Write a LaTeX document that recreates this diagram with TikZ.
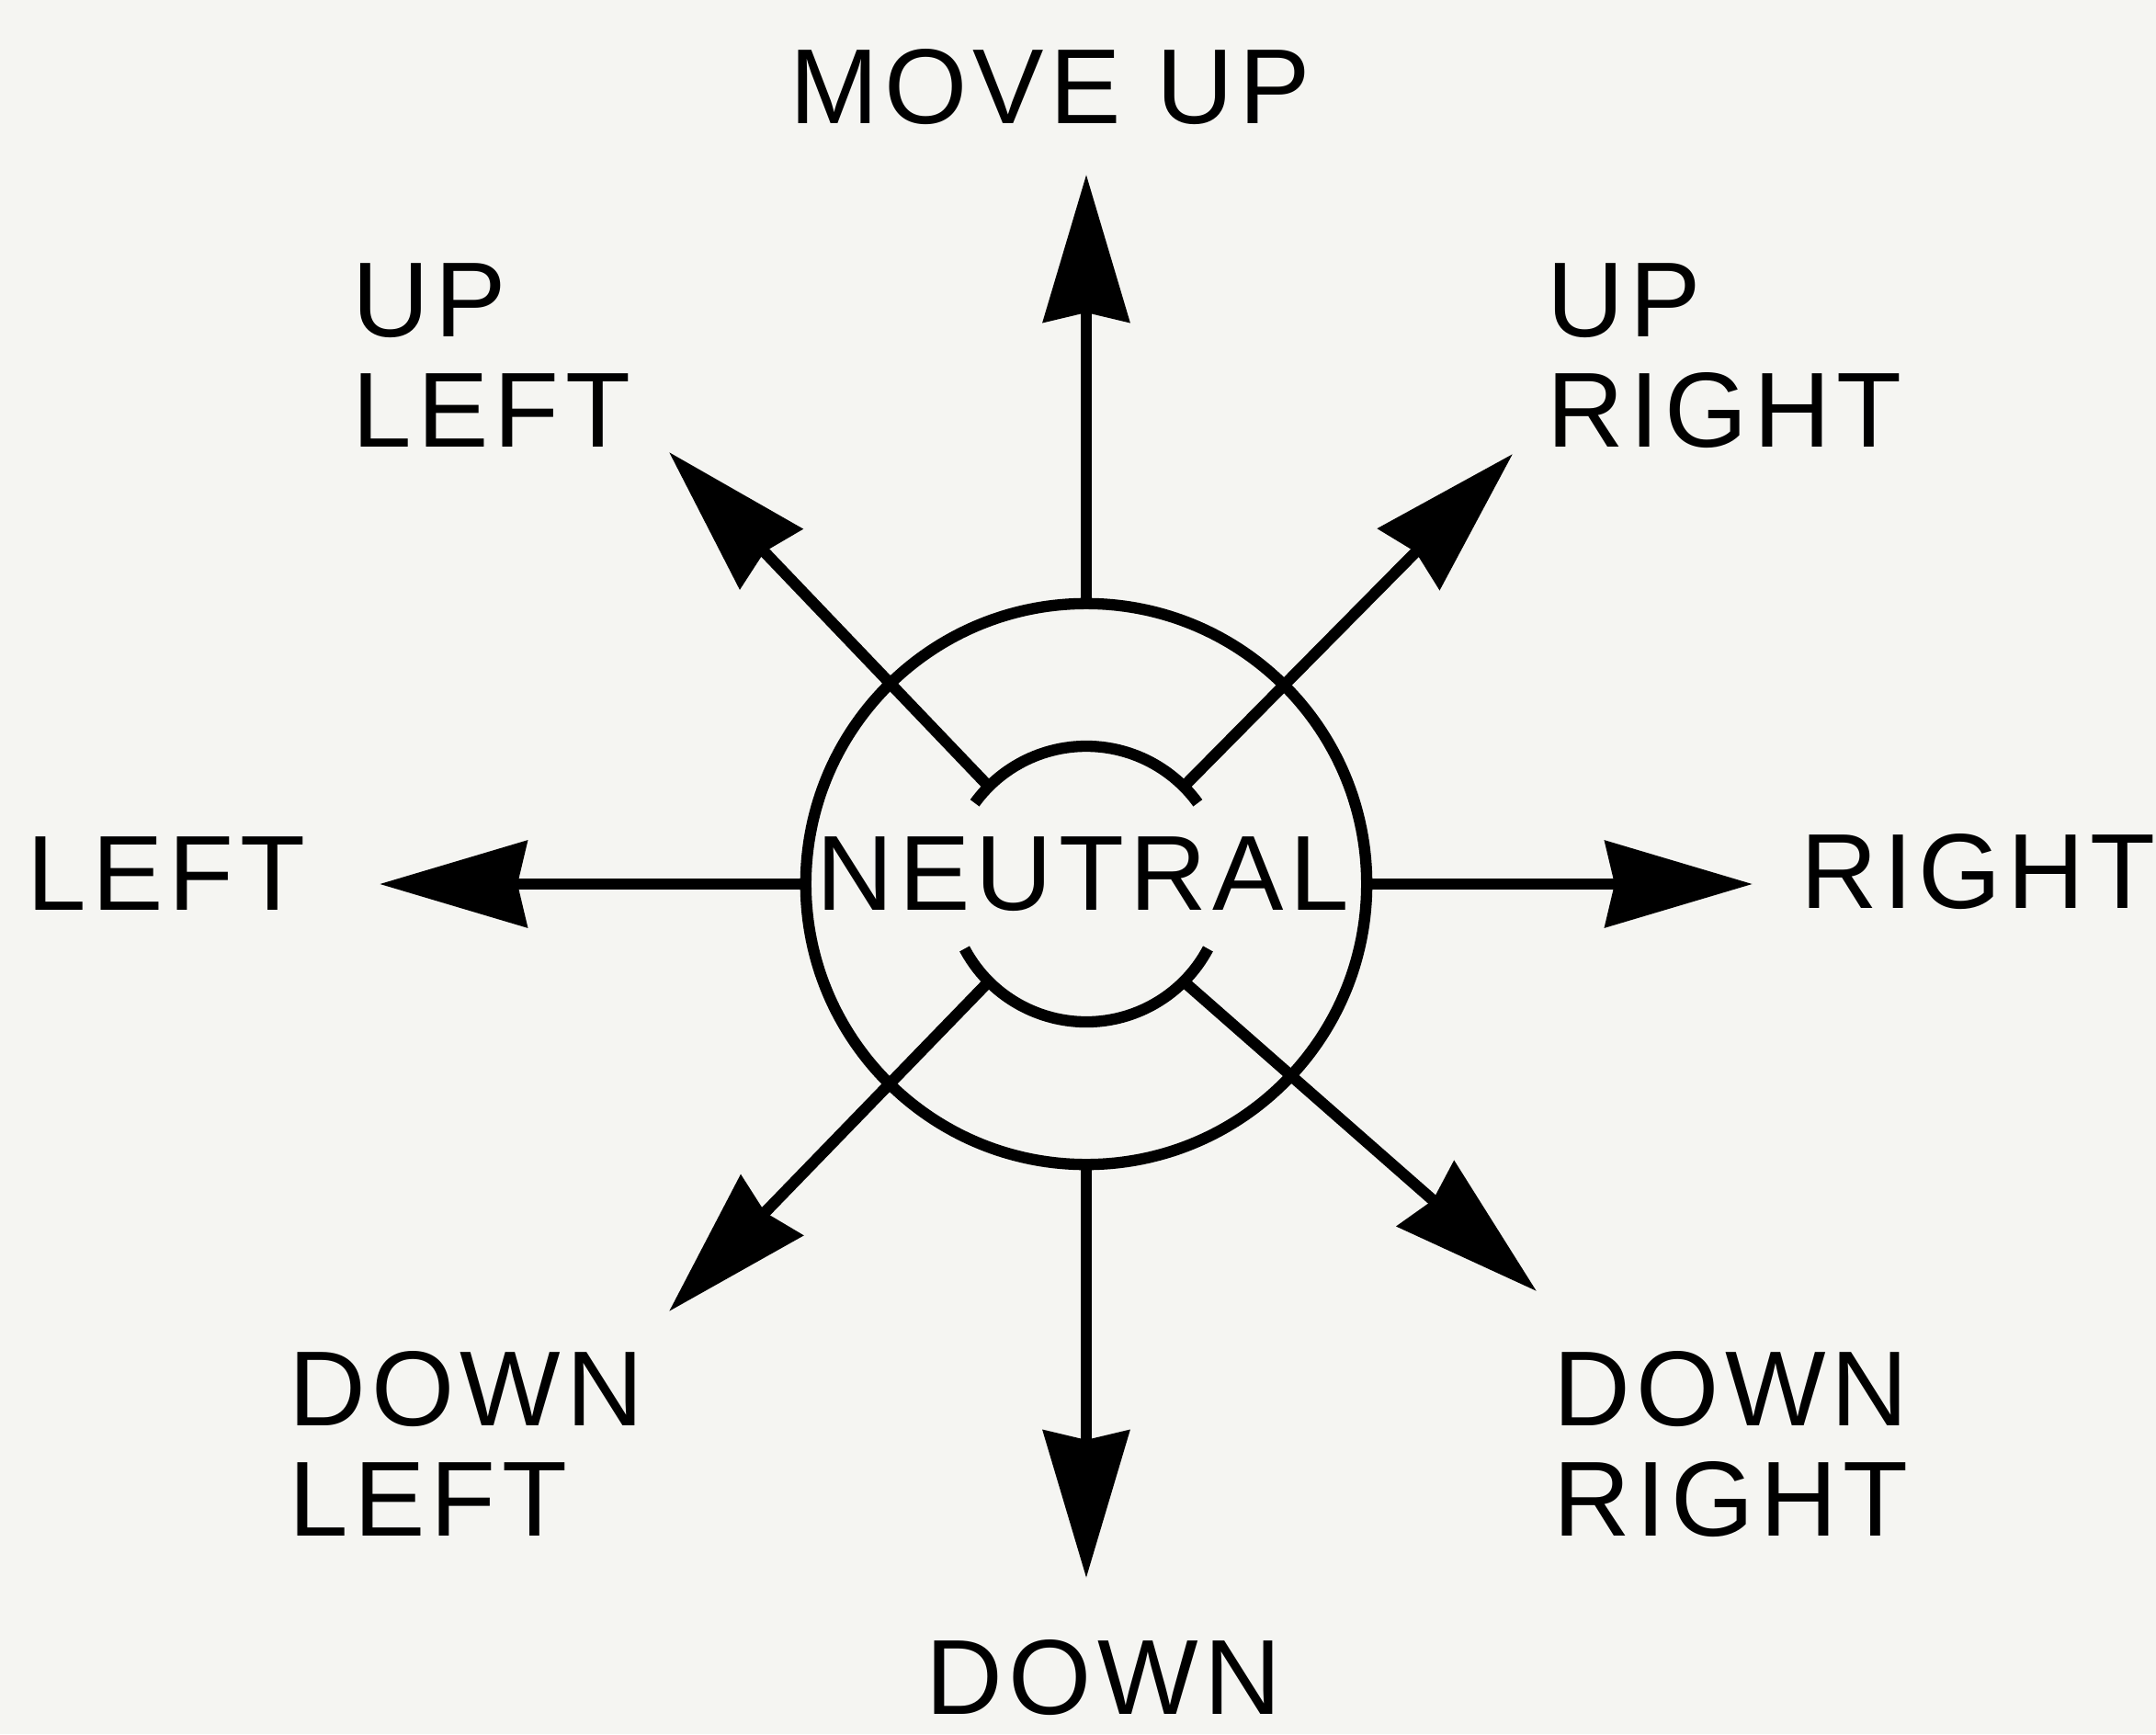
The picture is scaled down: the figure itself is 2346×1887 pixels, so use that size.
\documentclass[tikz,border=0pt]{standalone}
\usepackage{fontspec}
\newfontfamily\lblfont[LetterSpace=5.5]{Liberation Sans}
\usetikzlibrary{arrows.meta}
\definecolor{paper}{RGB}{245,245,242}

\begin{document}
\begin{tikzpicture}[x=0.01cm, y=0.01cm, line width=3.5pt,
    lbl/.style={font=\lblfont\fontsize{33}{34.1}\selectfont, inner sep=0pt, align=left},
    dirarrow/.style={-{Stealth[length=1.6cm, width=0.93cm, inset=0.1cm]}}]
        \fill[paper] (-1182,-925) rectangle (1164,962);
        \useasboundingbox (-1182,-925) rectangle (1164,962);
        % outer ring and the two inner arcs
        \node[draw, circle, minimum size=6.1cm, inner sep=0pt] (ring) at (0,0) {};
        \draw (144:150) arc[start angle=144, end angle=36, radius=150];
        \draw (208:150) arc[start angle=208, end angle=332, radius=150];
        \node[lbl, anchor=base] (neutral) at (-4,-28) {NEUTRAL};
        % where the slanted arrows leave the inner arcs
        \foreach \a/\n in {45/ur, 135/ul, 225/dl, 315/dr}
            \coordinate (\n0) at (\a:150);
        % arrow tips
        \coordinate (uptip) at (0,772);
        \coordinate (downtip) at (0,-755);
        \coordinate (lefttip) at (-769,0);
        \coordinate (righttip) at (725,0);
        \coordinate (urtip) at (464,468);
        \coordinate (ultip) at (-454,470);
        \coordinate (dltip) at (-454,-465);
        \coordinate (drtip) at (490,-443);
        % straight arrows
        \draw[dirarrow] (ring.north) -- (uptip);
        \draw[dirarrow] (ring.south) -- (downtip);
        \draw[dirarrow] (ring.west) -- (lefttip);
        \draw[dirarrow] (ring.east) -- (righttip);
        % slanted arrows
        \foreach \n in {ur, ul, dl, dr}
            \draw[dirarrow] (\n0) -- (\n tip);
        % labels
        \node[lbl, anchor=base west] (moveup) at (-329,827) {MOVE UP};
        \node[lbl, anchor=north west] (upleft) at (-805,681) {UP\\LEFT};
        \node[lbl, anchor=north west] (upright) at (495,681) {UP\\RIGHT};
        \node[lbl, anchor=base west] (leftlbl) at (-1159,-28) {LEFT};
        \node[lbl, anchor=base west] (rightlbl) at (771,-26) {RIGHT};
        \node[lbl, anchor=north west] (downleft) at (-874,-502) {DOWN\\LEFT};
        \node[lbl, anchor=north west] (downright) at (502,-502) {DOWN\\RIGHT};
        \node[lbl, anchor=base] (downlbl) at (19,-903) {DOWN};
    \end{tikzpicture}
\end{document}
